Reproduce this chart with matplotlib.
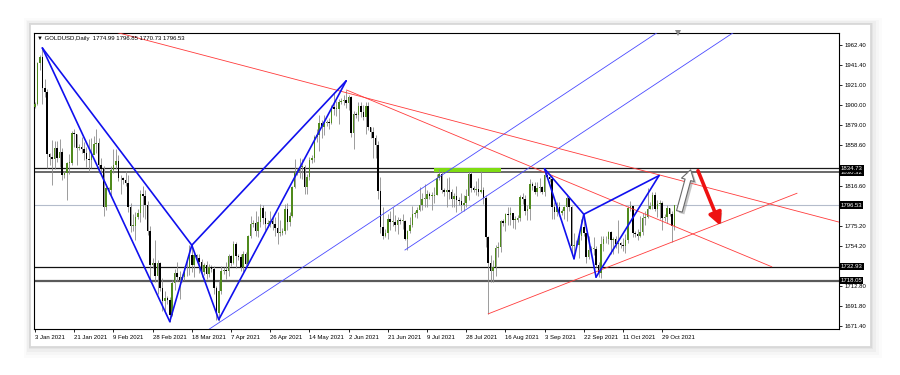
import matplotlib
matplotlib.use('Agg')
import matplotlib.pyplot as plt
import numpy as np
from matplotlib.patches import Rectangle
import matplotlib.patheffects as pe

# ---------------- data (XAUUSD daily, Sun..Fri bars) ----------------
first_open = 1898.0
close = [
    1901, 1943, 1950, 1918, 1913, 1849,
    1846, 1844, 1856, 1845, 1851, 1828,
    1830, 1840, 1840, 1871, 1870, 1856,
    1857, 1855, 1850, 1844, 1843, 1848,
    1860, 1861, 1838, 1834, 1794, 1814,
    1812, 1833, 1838, 1842, 1825, 1824,
    1822, 1819, 1795, 1775, 1775, 1784,
    1788, 1808, 1806, 1797, 1770, 1734,
    1737, 1723, 1737, 1711, 1697, 1700,
    1698, 1683, 1716, 1726, 1722, 1719,
    1722, 1731, 1731, 1745, 1735, 1745,
    1742, 1738, 1727, 1734, 1725, 1732,
    1730, 1711, 1685, 1708, 1728,
    1729, 1728, 1744, 1737, 1756, 1744,
    1743, 1732, 1746, 1736, 1764, 1777,
    1778, 1770, 1779, 1793, 1783, 1777,
    1778, 1780, 1777, 1773, 1768, 1768,
    1770, 1792, 1779, 1785, 1815, 1831,
    1832, 1836, 1836, 1815, 1826, 1843,
    1845, 1867, 1869, 1881, 1877, 1881,
    1882, 1881, 1898, 1896, 1896, 1903,
    1904, 1905, 1902, 1908, 1871, 1891,
    1890, 1899, 1893, 1888, 1899, 1877,
    1872, 1866, 1859, 1811, 1774, 1764,
    1768, 1782, 1779, 1779, 1776, 1781,
    1780, 1780, 1761, 1770, 1776, 1787,
    1788, 1791, 1797, 1803, 1803, 1808,
    1806, 1806, 1807, 1825, 1829, 1812,
    1810, 1812, 1810, 1803, 1806, 1802,
    1801, 1797, 1799, 1806, 1829, 1814,
    1812, 1813, 1810, 1812, 1804, 1763,
    1737, 1728, 1732, 1752, 1753, 1780,
    1778, 1787, 1786, 1788, 1781, 1781,
    1783, 1805, 1803, 1790, 1792, 1818,
    1816, 1810, 1814, 1815, 1810, 1828,
    1826, 1823, 1794, 1789, 1794, 1788,
    1790, 1794, 1804, 1794, 1754, 1754,
    1755, 1764, 1774, 1768, 1743, 1750,
    1751, 1751, 1734, 1726, 1756, 1761,
    1761, 1769, 1760, 1761, 1756, 1757,
    1755, 1754, 1760, 1793, 1796, 1768,
    1767, 1765, 1769, 1783, 1784, 1792,
    1796, 1807, 1792, 1798, 1799, 1783,
    1784, 1793, 1787, 1774.99, 1796.53,
]
high = [
    1903, 1944, 1952, 1959, 1927, 1917,
    1850, 1864, 1863, 1863, 1865, 1856,
    1832, 1841, 1849, 1873, 1875, 1870,
    1860, 1867, 1862, 1857, 1865, 1866,
    1868, 1875, 1866, 1845, 1837, 1818,
    1815, 1837, 1855, 1855, 1848, 1828,
    1826, 1832, 1828, 1799, 1787, 1789,
    1792, 1812, 1816, 1812, 1801, 1775,
    1742, 1760, 1740, 1738, 1721, 1708,
    1702, 1701, 1719, 1730, 1738, 1728,
    1725, 1733, 1740, 1755, 1755, 1747,
    1746, 1746, 1741, 1737, 1739, 1736,
    1734, 1733, 1713, 1718, 1733,
    1732, 1738, 1746, 1745, 1759, 1758,
    1746, 1746, 1749, 1748, 1766, 1785,
    1781, 1790, 1785, 1798, 1797, 1790,
    1781, 1790, 1785, 1784, 1789, 1781,
    1773, 1798, 1799, 1789, 1816, 1844,
    1835, 1845, 1844, 1838, 1829, 1846,
    1848, 1869, 1875, 1890, 1884, 1890,
    1885, 1887, 1900, 1913, 1904, 1906,
    1907, 1910, 1916, 1910, 1909, 1894,
    1893, 1903, 1903, 1900, 1903, 1903,
    1877, 1877, 1869, 1863, 1826, 1795,
    1772, 1787, 1790, 1795, 1786, 1784,
    1783, 1787, 1781, 1771, 1784, 1796,
    1790, 1795, 1815, 1809, 1818, 1812,
    1810, 1810, 1815, 1829, 1834, 1832,
    1814, 1825, 1826, 1813, 1809, 1816,
    1805, 1809, 1807, 1813, 1832, 1832,
    1816, 1821, 1824, 1832, 1815, 1807,
    1765, 1745, 1740, 1755, 1758, 1781,
    1782, 1788, 1795, 1795, 1787, 1785,
    1786, 1807, 1809, 1807, 1797, 1823,
    1820, 1820, 1820, 1824, 1816, 1834,
    1829, 1828, 1827, 1800, 1800, 1800,
    1792, 1796, 1808, 1805, 1796, 1768,
    1760, 1767, 1782, 1787, 1768, 1764,
    1754, 1763, 1754, 1738, 1765, 1764,
    1764, 1770, 1770, 1763, 1764, 1781,
    1758, 1762, 1767, 1796, 1801, 1796,
    1770, 1772, 1785, 1788, 1790, 1814,
    1800, 1810, 1810, 1802, 1802, 1801,
    1787, 1797, 1793, 1790, 1796.85,
]
low = [
    1897, 1900, 1936, 1901, 1908, 1835,
    1838, 1817, 1834, 1841, 1836, 1822,
    1825, 1802, 1829, 1838, 1857, 1838,
    1853, 1850, 1843, 1836, 1831, 1835,
    1852, 1850, 1830, 1829, 1785, 1791,
    1808, 1807, 1830, 1834, 1821, 1808,
    1818, 1816, 1789, 1769, 1770, 1760,
    1782, 1779, 1784, 1782, 1766, 1717,
    1731, 1717, 1705, 1708, 1687, 1687,
    1694, 1676, 1682, 1709, 1718, 1699,
    1717, 1719, 1723, 1724, 1727, 1722,
    1738, 1726, 1722, 1724, 1720, 1722,
    1727, 1705, 1678, 1677, 1705,
    1725, 1720, 1723, 1733, 1736, 1731,
    1740, 1728, 1727, 1734, 1735, 1762,
    1774, 1764, 1763, 1774, 1777, 1771,
    1774, 1774, 1771, 1764, 1756, 1765,
    1766, 1767, 1771, 1775, 1784, 1814,
    1828, 1825, 1823, 1808, 1808, 1822,
    1840, 1841, 1862, 1852, 1866, 1869,
    1878, 1875, 1880, 1890, 1889, 1880,
    1901, 1900, 1897, 1895, 1867, 1855,
    1887, 1883, 1888, 1885, 1870, 1874,
    1866, 1845, 1845, 1803, 1768, 1761,
    1763, 1761, 1771, 1775, 1770, 1767,
    1777, 1772, 1760, 1750, 1768, 1774,
    1784, 1783, 1790, 1791, 1795, 1795,
    1803, 1791, 1799, 1807, 1822, 1809,
    1806, 1794, 1803, 1794, 1794, 1789,
    1797, 1790, 1790, 1795, 1802, 1810,
    1810, 1807, 1806, 1809, 1798, 1753,
    1684, 1717, 1717, 1723, 1743, 1748,
    1775, 1770, 1776, 1776, 1773, 1772,
    1779, 1780, 1798, 1786, 1781, 1781,
    1812, 1808, 1806, 1810, 1808, 1806,
    1823, 1820, 1782, 1782, 1785, 1785,
    1786, 1782, 1780, 1790, 1745, 1742,
    1752, 1742, 1760, 1764, 1737, 1741,
    1747, 1745, 1732, 1722, 1721, 1749,
    1757, 1756, 1746, 1746, 1752, 1747,
    1752, 1749, 1747, 1757, 1790, 1763,
    1763, 1760, 1763, 1766, 1776, 1783,
    1792, 1792, 1790, 1784, 1782, 1771,
    1780, 1778, 1785, 1758, 1770.73,
]

date_labels = ['3 Jan 2021', '21 Jan 2021', '9 Feb 2021', '28 Feb 2021', '18 Mar 2021',
               '7 Apr 2021', '26 Apr 2021', '14 May 2021', '2 Jun 2021', '21 Jun 2021',
               '9 Jul 2021', '28 Jul 2021', '16 Aug 2021', '3 Sep 2021', '22 Sep 2021',
               '11 Oct 2021', '29 Oct 2021']
date_label_bars = [0, 16, 32, 48, 64, 80, 96, 112, 128, 144, 160, 176, 192, 208, 224, 240, 256]
price_ticks = [1962.40, 1941.40, 1921.00, 1900.00, 1879.00, 1858.60, 1816.60,
               1775.20, 1754.20, 1712.80, 1691.80, 1671.40]

level_prices = [1834.73, 1830.32, 1796.53, 1732.93, 1718.05]

green_zone_bars = [163, 190]
green_zone_prices = [1830.32, 1834.73]

pattern1_bars = [3, 55, 64, 75, 127]
pattern1_prices = [1959, 1676, 1755, 1678, 1925]
pattern2_bars = [208, 220, 224, 229, 254.7]
pattern2_prices = [1834, 1741, 1787, 1722, 1827]
pattern_edges = [(0, 1), (1, 2), (2, 3), (3, 4), (0, 2), (2, 4)]

channel1_bars = [70, 270]
channel1_prices = [1666.3, 2001.8]
channel2_bars = [151, 300]
channel2_prices = [1750.0, 2000.0]

red1_bars = [20, 328]
red1_prices = [1984, 1779]
red2_bars = [127.2, 300.7]
red2_prices = [1915.5, 1732.7]
red3_bars = [185, 311]
red3_prices = [1684, 1808.7]

white_arrow_bars = [263.0, 267.6]
white_arrow_prices = [1790.0, 1833.0]
red_arrow_bars = [270.6, 279.8]
red_arrow_prices = [1832.0, 1775.0]

title_text = '\u25bc GOLDUSD,Daily  1774.99 1796.85 1770.73 1796.53'

# ---------------- figure ----------------
W, H = 900, 375
fig = plt.figure(figsize=(W / 100, H / 100), dpi=100)
fig.patch.set_facecolor('white')
FONT = 'Liberation Sans'
FS = 4.3


def px_rect(x0, y0, x1, y1, **kw):
    return Rectangle((x0 / W, 1 - y1 / H), (x1 - x0) / W, (y1 - y0) / H,
                     transform=fig.transFigure, zorder=-5, **kw)


# window with soft drop shadow
for d, a in [(12, 0.015), (9, 0.02), (6, 0.03), (3, 0.04), (1.5, 0.05)]:
    fig.patches.append(px_rect(30 - d / 2, 24 - d / 2, 870 + d, 346 + d, fc='black', ec='none', alpha=a))
fig.patches.append(px_rect(30, 24, 870, 346, fc='white', ec='#d6d6d6', lw=0.5))

ax = fig.add_axes([34 / W, 1 - 329 / H, 805 / W, 296 / H])
ax.set_zorder(2)
ax.set_xlim(-0.41, 328.16)
ax.set_ylim(1668.3, 1974.5)
for s in ax.spines.values():
    s.set_color('black')
    s.set_linewidth(0.8)

close_a = np.array(close, float)
high_a = np.array(high, float)
low_a = np.array(low, float)
open_a = np.r_[first_open, close_a[:-1]]
bars = np.arange(len(close_a))
up = close_a >= open_a

# levels
ax.axhline(level_prices[0], color='#1a1a1a', lw=0.9, zorder=1)
ax.axhline(level_prices[1], color='#404040', lw=1.1, zorder=1)
ax.axhline(level_prices[2], color='#b4bccb', lw=0.8, zorder=1)
ax.axhline(level_prices[3], color='#111111', lw=0.9, zorder=1)
ax.axhline(level_prices[4], color='#5a5a5a', lw=1.6, zorder=1)
ax.fill_between(green_zone_bars, green_zone_prices[0], green_zone_prices[1],
                color='#7fdc12', lw=0, zorder=1.5)

# candles
ax.vlines(bars, low_a, high_a, color='#8c8c8c', lw=0.6, zorder=2)
body = np.maximum(np.abs(close_a - open_a), 0.8)
bottom = np.minimum(close_a, open_a)
ax.bar(bars[up], body[up], bottom=bottom[up], width=0.62, color='#4f8a1c', lw=0, zorder=3)
ax.bar(bars[~up], body[~up], bottom=bottom[~up], width=0.62, color='black', lw=0, zorder=3)

# channel lines (thin blue)
ax.plot(channel1_bars, channel1_prices, color='#4a4aff', lw=0.6, zorder=4)
ax.plot(channel2_bars, channel2_prices, color='#4a4aff', lw=0.6, zorder=4)
# red trend lines
for bx, py in [(red1_bars, red1_prices), (red2_bars, red2_prices), (red3_bars, red3_prices)]:
    ax.plot(bx, py, color='#ff3b3b', lw=0.6, zorder=4)
# harmonic patterns (blue)
for pb, pp in [(pattern1_bars, pattern1_prices), (pattern2_bars, pattern2_prices)]:
    for i, j in pattern_edges:
        ax.plot([pb[i], pb[j]], [pp[i], pp[j]], color='#1010ee', lw=1.2, zorder=5,
                solid_capstyle='round')

# arrows
shadow = [pe.SimplePatchShadow(offset=(1.6, -1.6), shadow_rgbFace='#808080', alpha=0.45), pe.Normal()]
ax.annotate('', xy=(white_arrow_bars[1], white_arrow_prices[1]),
            xytext=(white_arrow_bars[0], white_arrow_prices[0]),
            arrowprops=dict(arrowstyle='simple,head_length=0.75,head_width=0.95,tail_width=0.42',
                            mutation_scale=10, fc='white', ec='#6a6a6a', lw=0.8,
                            shrinkA=0, shrinkB=0, path_effects=shadow),
            zorder=7)
ax.annotate('', xy=(red_arrow_bars[1], red_arrow_prices[1]),
            xytext=(red_arrow_bars[0], red_arrow_prices[0]),
            arrowprops=dict(arrowstyle='-|>,head_length=0.75,head_width=0.38',
                            mutation_scale=10, color='#ee1111', lw=2.6,
                            shrinkA=0, shrinkB=0, path_effects=shadow),
            zorder=7)

# chart-shift marker at top
ax.plot([262.4], [1.0], marker='v', color='#8a8a8a', ms=4, mew=0,
        transform=ax.get_xaxis_transform(), clip_on=False, zorder=8)

# title
ax.text(0.004, 0.983, title_text, transform=ax.transAxes, fontsize=FS,
        family=FONT, va='center', ha='left', color='black', zorder=9)

# axes ticks
ax.yaxis.tick_right()
ax.set_yticks(price_ticks)
ax.set_yticklabels([f'{p:.2f}' for p in price_ticks], fontsize=FS, family=FONT)
ax.set_xticks(date_label_bars)
ax.set_xticklabels(date_labels, fontsize=FS, family=FONT)
for lab in ax.get_xticklabels():
    lab.set_horizontalalignment('left')
ax.tick_params(axis='both', length=2.5, width=0.6, color='black', pad=1.5)

# price label boxes on the axis
ytr = ax.get_yaxis_transform()
for p in [level_prices[1], level_prices[0], level_prices[2], level_prices[3], level_prices[4]]:
    ax.text(1.002, p, f'{p:.2f}', transform=ytr, fontsize=FS, family=FONT, color='white',
            va='center', ha='left', clip_on=False, zorder=10,
            bbox=dict(boxstyle='square,pad=0.18', fc='black', ec='none'))

fig.savefig('out.png', dpi=100, facecolor='white')
